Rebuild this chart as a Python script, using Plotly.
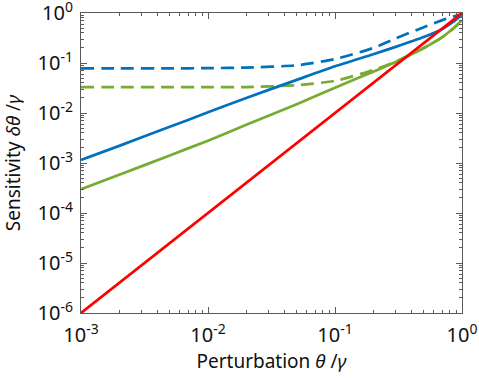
import plotly.graph_objects as go

# ---- data ----
x_vals = [0.001, 0.002, 0.005, 0.01, 0.02, 0.05, 0.1, 0.2, 0.3, 0.5, 0.7, 0.85, 1.0]
blue_solid = [1.15e-3, 2.2e-3, 5.3e-3, 1.03e-2, 2.0e-2, 4.6e-2, 8.6e-2, 0.15, 0.21, 0.33, 0.48, 0.66, 0.92]
blue_dashed = [0.078, 0.078, 0.078, 0.079, 0.081, 0.090, 0.12, 0.20, 0.31, 0.52, 0.72, 0.85, 0.95]
green_solid = [3.0e-4, 5.8e-4, 1.42e-3, 2.8e-3, 5.8e-3, 1.5e-2, 3.2e-2, 0.067, 0.105, 0.20, 0.33, 0.49, 0.72]
green_dashed = [0.033, 0.033, 0.033, 0.033, 0.033, 0.036, 0.044, 0.072, 0.107, 0.20, 0.33, 0.48, 0.70]
red_x = [0.001, 1.0]
red_y = [1e-6, 1.0]

x_tickvals = [1e-3, 1e-2, 1e-1, 1]
x_ticktext = ["10<sup>-3</sup>", "10<sup>-2</sup>", "10<sup>-1</sup>", "10<sup>0</sup>"]
y_tickvals = [1e-6, 1e-5, 1e-4, 1e-3, 1e-2, 1e-1, 1]
y_ticktext = ["10<sup>-6</sup>", "10<sup>-5</sup>", "10<sup>-4</sup>", "10<sup>-3</sup>",
              "10<sup>-2</sup>", "10<sup>-1</sup>", "10<sup>0</sup>"]

BLUE = "#0072BD"
GREEN = "#77AC30"
RED = "#FF0000"
AXC = "#5a5a5a"
FONT = "Noto Sans"
TXT = "#111"

def minor_vals(decades):
    return [m * d for d in decades for m in range(2, 10)]

DASH = "13px,7px"
W = 2.7
fig = go.Figure()
fig.add_trace(go.Scatter(x=x_vals, y=blue_dashed, mode="lines", line=dict(color=BLUE, width=W, dash=DASH, shape="spline", smoothing=0.6)))
fig.add_trace(go.Scatter(x=x_vals, y=green_dashed, mode="lines", line=dict(color=GREEN, width=W, dash=DASH, shape="spline", smoothing=0.6)))
fig.add_trace(go.Scatter(x=x_vals, y=blue_solid, mode="lines", line=dict(color=BLUE, width=W, shape="spline", smoothing=0.6)))
fig.add_trace(go.Scatter(x=x_vals, y=green_solid, mode="lines", line=dict(color=GREEN, width=W, shape="spline", smoothing=0.6)))
fig.add_trace(go.Scatter(x=red_x, y=red_y, mode="lines", line=dict(color=RED, width=W)))

axis_common = dict(
    type="log", showgrid=False, zeroline=False, showline=True, linecolor=AXC, linewidth=1,
    mirror="ticks", ticks="inside", ticklen=6, tickcolor=AXC, tickwidth=1,
    tickfont=dict(family=FONT, size=20, color=TXT), automargin=False,
    ticklabeloverflow="allow",
)

fig.update_xaxes(
    **axis_common, range=[-3, 0], tickmode="array", tickvals=x_tickvals, ticktext=x_ticktext,
    minor=dict(ticks="inside", ticklen=3, tickcolor=AXC, tickmode="array",
               tickvals=minor_vals([1e-3, 1e-2, 1e-1]), showgrid=False),
    title=dict(text="Perturbation <i>θ</i> /<i>γ</i>", font=dict(family=FONT, size=19, color=TXT), standoff=2),
    ticklabelstandoff=4,
)
fig.update_yaxes(
    **axis_common, range=[-6, 0], tickmode="array", tickvals=y_tickvals, ticktext=y_ticktext,
    minor=dict(ticks="inside", ticklen=3, tickcolor=AXC, tickmode="array",
               tickvals=minor_vals([1e-6, 1e-5, 1e-4, 1e-3, 1e-2, 1e-1]), showgrid=False),
    title=dict(text="Sensitivity <i>δθ</i> /<i>γ</i>", font=dict(family=FONT, size=19, color=TXT), standoff=14),
    ticklabelstandoff=3,
)

fig.update_layout(
    width=479, height=378,
    margin=dict(l=81, r=17, t=13, b=65, autoexpand=False),
    paper_bgcolor="white", plot_bgcolor="white",
    showlegend=False,
)

fig.write_html("out.html", config={"displayModeBar": False},
               post_script="document.body.style.margin='0';")
